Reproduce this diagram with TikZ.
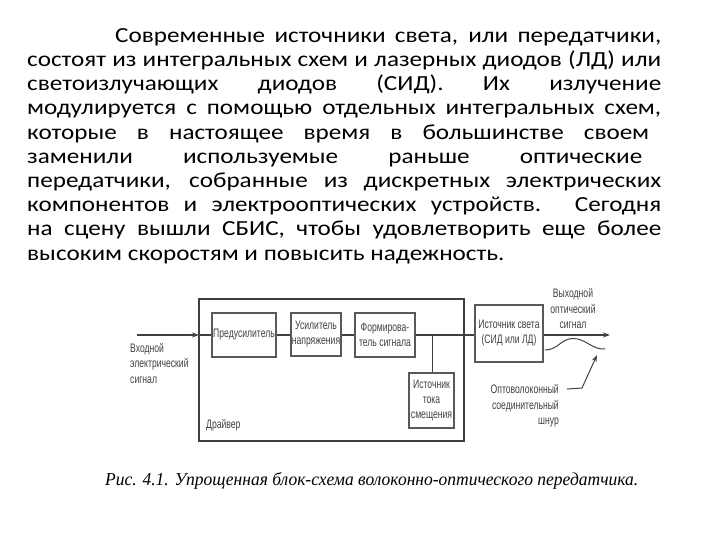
\documentclass[tikz,border=0pt]{standalone}
\usepackage{fontspec}
\setmainfont[FakeStretch=1.17]{Carlito}
\newfontfamily\dfont[FakeStretch=0.7]{Liberation Sans}
\newfontfamily\capfont{Liberation Serif}
\usetikzlibrary{arrows.meta}
\definecolor{dgray}{gray}{0.25}
\definecolor{bgray}{gray}{0.35}
\tikzset{
  bodyline/.style={anchor=base west, inner sep=0pt, font=\fontsize{21.5}{24}\selectfont},
  blk/.style={draw=bgray, line width=1.3pt, inner sep=0pt, font=\dfont\fontsize{12.3}{15}\selectfont, text=dgray, align=center},
  lbl/.style={inner sep=0pt, font=\dfont\fontsize{12.3}{15.5}\selectfont, text=dgray},
  sig/.style={draw=dgray, line width=1.5pt},
  arr/.style={-{Stealth[length=7pt,width=5pt]}}
}
\begin{document}
\begin{tikzpicture}[x=1pt,y=-1pt]
\useasboundingbox (0,0) rectangle (720,540);
% body text
\node[bodyline] (t1) at (115,42.3) {\makebox[546pt][s]{Современные источники света, или передатчики,}};
\node[bodyline] (t2) at (27,66.5) {\makebox[634pt][s]{состоят из интегральных схем и лазерных диодов (ЛД) или}};
\node[bodyline] (t3) at (27,90.7) {\makebox[634pt][s]{светоизлучающих диодов (СИД). Их излучение}};
\node[bodyline] (t4) at (27,114.9) {\makebox[634pt][s]{модулируется с помощью отдельных интегральных схем,}};
\node[bodyline] (t5) at (27,139.1) {\makebox[622pt][s]{которые в настоящее время в большинстве своем}};
\node[bodyline] (t6) at (27,163.3) {\makebox[615pt][s]{заменили используемые раньше оптические}};
\node[bodyline] (t7) at (27,187.5) {\makebox[634pt][s]{передатчики, собранные из дискретных электрических}};
\node[bodyline] (t8) at (27,211.7) {\makebox[634pt][s]{компонентов и электрооптических устройств. Сегодня}};
\node[bodyline] (t9) at (27,235.9) {\makebox[634pt][s]{на сцену вышли СБИС, чтобы удовлетворить еще более}};
\node[bodyline] (t10) at (27,260.1) {высоким скоростям и повысить надежность.};
% driver box
\draw[draw=dgray, line width=1.4pt] (199,299) rectangle (464,441);
\node[lbl, anchor=west] (drv) at (206,425) {Драйвер};
% blocks
\node[blk, minimum width=64pt, minimum height=44pt] (pre) at (244,335) {Предусилитель};
\node[blk, minimum width=50pt, minimum height=43pt] (amp) at (316,334.5) {Усилитель\\напряжения};
\node[blk, minimum width=60pt, minimum height=44pt] (form) at (385,335) {Формирова-\\тель сигнала};
\node[blk, minimum width=68pt, minimum height=57pt] (src) at (509,333.5) {Источник света\\(СИД или ЛД)};
\node[blk, minimum width=45pt, minimum height=55pt] (bias) at (431.5,400.5) {Источник\\тока\\смещения};
% connections
\coordinate (inS) at (137,335);
\coordinate (inE) at (199,335);
\draw[sig, arr] (inS) -- (inE);
\draw[sig] (inE) -- (pre.west);
\draw[sig] (pre.east) -- (amp.west |- pre.east);
\draw[sig] (amp.east |- form.west) -- (form.west);
\draw[sig] (form.east) -- (src.west |- form.east);
\coordinate (jn) at (432,335);
\draw[draw=dgray, line width=1pt] (jn) -- (jn |- bias.north);
\coordinate (outE) at (610,335);
\draw[sig, arr] (src.east |- outE) -- (outE);
% fibre
\coordinate (f0) at (545,350);
\coordinate (f1) at (573,338.5);
\coordinate (f2) at (605,349);
\draw[draw=dgray, line width=1pt] (f0) .. controls (558,350) and (561,338.5) .. (f1) .. controls (586,338.5) and (592,350) .. (f2);
% labels
\node[lbl, align=left, anchor=west] (inl) at (130,363) {Входной\\электрический\\сигнал};
\node[lbl, align=center] (outl) at (573,308.5) {Выходной\\оптический\\сигнал};
\node[lbl, align=right, anchor=east] (fibl) at (559,406) {Оптоволоконный\\соединительный\\шнур};
\coordinate (a0) at (567,389);
\coordinate (a1) at (582,388);
\coordinate (a2) at (597,355);
\draw[draw=dgray, line width=1pt, arr] (a0) -- (a1) -- (a2);
% caption
\node[anchor=base west, inner sep=0pt] (cap) at (105,485) {\resizebox{533pt}{13pt}{\capfont\itshape Рис. 4.1. Упрощенная блок-схема волоконно-оптического передатчика.}};
\end{tikzpicture}
\end{document}
